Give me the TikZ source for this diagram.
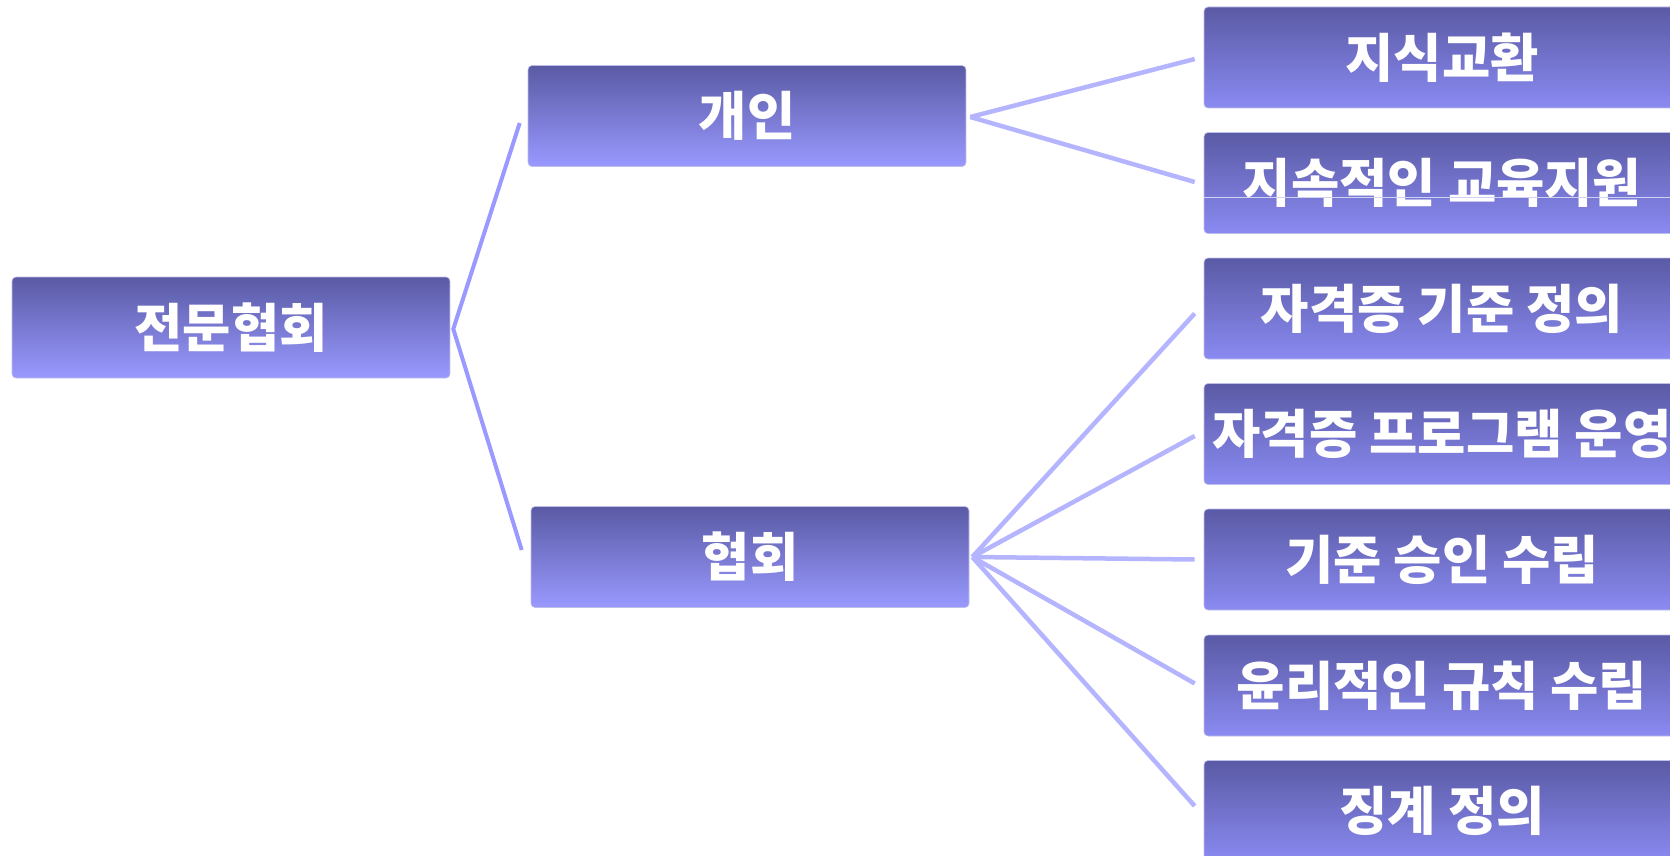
\documentclass[tikz,border=0pt]{standalone}
\usepackage{fontspec}
\newfontfamily\kr{Noto Sans CJK KR}
\usetikzlibrary{calc}
\definecolor{boxtop}{RGB}{90,90,165}
\definecolor{boxbotL}{RGB}{153,153,255}
\definecolor{boxbotR}{RGB}{138,138,242}
\definecolor{boxedge}{RGB}{190,190,235}
\definecolor{lineA}{RGB}{153,153,255}
\definecolor{lineB}{RGB}{180,180,255}
\tikzset{
  base/.style={rectangle, rounded corners=4pt, draw=boxedge, line width=0.6pt,
    top color=boxtop, text=white, inner sep=0pt, minimum height=101pt,
    font=\kr\bfseries\fontsize{52.5}{60}\selectfont},
  leftbox/.style={base, bottom color=boxbotL, minimum width=438pt},
  rightbox/.style={base, bottom color=boxbotR, minimum width=476pt},
  linkA/.style={draw=lineA, line width=4pt},
  linkB/.style={draw=lineB, line width=4.5pt},
}
\begin{document}
\begin{tikzpicture}[x=1pt,y=-1pt]
\useasboundingbox (0,0) rectangle (1670,856);
% left and middle boxes
\node[leftbox] (root) at (231,327.5) {전문협회};
\node[leftbox] (gaein) at (747,116) {개인};
\node[leftbox] (hyeop) at (750,557) {협회};
% right boxes
\node[rightbox] (r1) at (1442,57.5) {지식교환};
\node[rightbox] (r2) at (1442,183) {지속적인 교육지원};
\node[rightbox] (r3) at (1442,308.5) {자격증 기준 정의};
\node[rightbox] (r4) at (1442,434) {자격증 프로그램 운영};
\node[rightbox] (r5) at (1442,559.5) {기준 승인 수립};
\node[rightbox] (r6) at (1442,685.5) {윤리적인 규칙 수립};
\node[rightbox] (r7) at (1442,811) {징계 정의};
\draw[draw=boxedge!70!white, line width=0.7pt] ($(r2.west)+(0,14)$) -- ($(r2.east)+(0,14)$);
% connector coordinates
\coordinate (rv) at ($(root.east)+(3,1.5)$);
\coordinate (gin) at ($(gaein.west)+(-8,7)$);
\coordinate (hin) at ($(hyeop.west)+(-9,-7)$);
\coordinate (gv) at ($(gaein.east)+(4,1)$);
\coordinate (hv) at ($(hyeop.east)+(3,0)$);
\foreach \n in {r1,r2,r3,r4,r5,r6,r7}{
  \coordinate (\n in) at ($(\n.west)+(-9,0)$);
}
% connectors
\draw[linkA, line join=miter] (gin) -- (rv) -- (hin);
\draw[linkB] (gv) -- ($(r1in)+(0,1.5)$);
\draw[linkB] (gv) -- ($(r2in)+(0,-1)$);
\draw[linkB] (hv) -- ($(r3in)+(0,5)$);
\draw[linkB] (hv) -- ($(r4in)+(0,2)$);
\draw[linkB] (hv) -- ($(r5in)+(0,0)$);
\draw[linkB] (hv) -- ($(r6in)+(0,-2)$);
\draw[linkB] (hv) -- ($(r7in)+(0,-5)$);
\end{tikzpicture}
\end{document}
